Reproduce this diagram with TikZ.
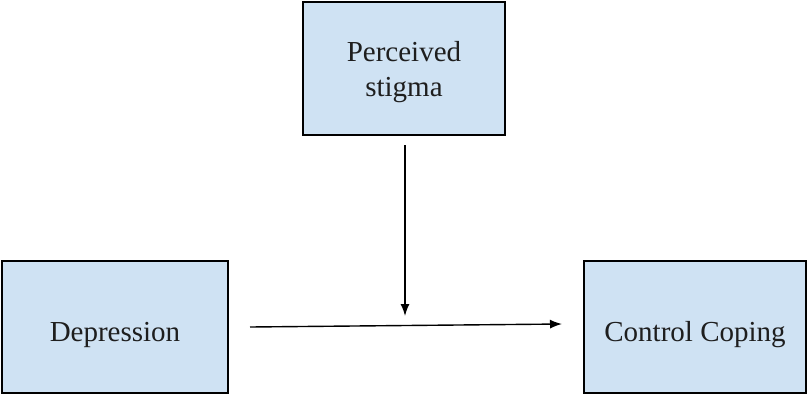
\documentclass[tikz,border=0pt]{standalone}
\usepackage{fontspec}
\setmainfont{Liberation Serif}
\usepackage{tikz}
\usetikzlibrary{arrows.meta}
\definecolor{boxblue}{HTML}{CFE2F3}
\definecolor{ink}{HTML}{1E1E1E}
\tikzstyle{varbox}=[draw=black, line width=1.6pt, fill=boxblue, rectangle, align=center, text=ink, font=\fontsize{29}{35}\selectfont]
\tikzstyle{link}=[line width=1.4pt, -{Latex[length=12pt,width=9pt]}]

\begin{document}
\begin{tikzpicture}[x=1pt,y=1pt]
\useasboundingbox (0,0) rectangle (808,-394);
\node[varbox, minimum width=202pt, minimum height=133pt, text depth=-4pt] (stigma) at (404,-68.5) {Perceived\\stigma};
\node[varbox, minimum width=226pt, minimum height=132pt, text height=33pt, text depth=4pt] (dep) at (115,-327) {Depression};
\node[varbox, minimum width=222pt, minimum height=132pt, text height=33pt, text depth=4pt] (cope) at (695,-327) {Control Coping};
\coordinate (hstart) at (250,-327);
\coordinate (hend) at (562,-324);
\coordinate (vstart) at (405,-145);
\coordinate (vend) at (405,-316);
\draw[link] (hstart) -- (hend);
\draw[link] (vstart) -- (vend);
\end{tikzpicture}
\end{document}
